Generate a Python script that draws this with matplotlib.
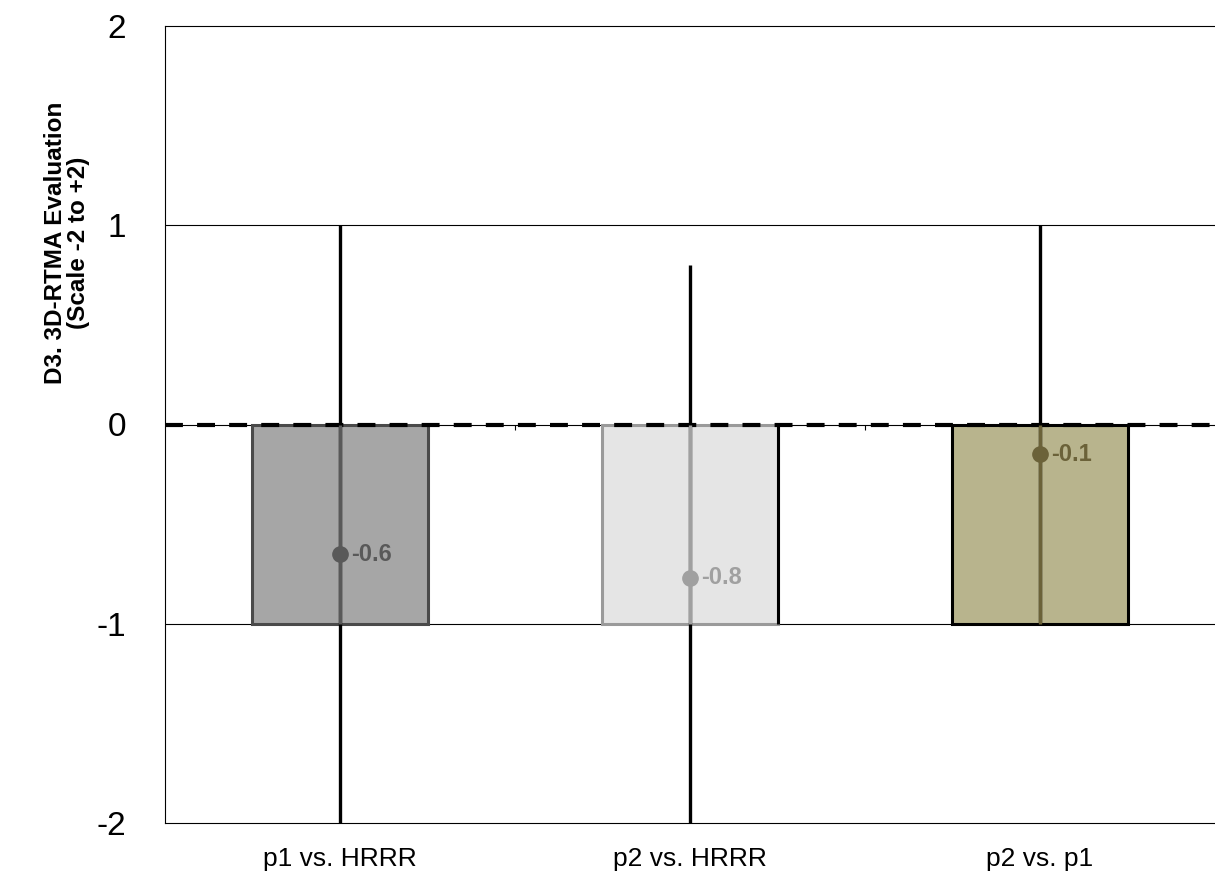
import matplotlib
matplotlib.use("Agg")
import matplotlib.pyplot as plt
import numpy as np

categories = ["p1 vs. HRRR", "p2 vs. HRRR", "p2 vs. p1"]
box_top = [0, 0, 0]
box_bottom = [-1, -1, -1]
whisker_low = [-2, -2, -1]
whisker_high = [1, 0.8, 1]
means = [-0.65, -0.77, -0.15]
mean_labels = ["-0.6", "-0.8", "-0.1"]
yticks = [-2, -1, 0, 1, 2]

fill_colors = ["#A6A6A6", "#E5E5E5", "#B8B48D"]
edge_colors = ["#4A4A4A", "#9A9A9A", "#000000"]
inner_colors = ["#595959", "#A0A0A0", "#6B6239"]

plt.rcParams['font.family'] = ['Liberation Sans', 'DejaVu Sans']

fig = plt.figure(figsize=(12.15, 8.77), dpi=100)
ax = fig.add_axes([165/1215, 54/877, 1050/1215, 797/877])

x = np.arange(len(categories))
width = 0.505
ax.set_xlim(-0.5, len(categories) - 0.5)
ax.set_ylim(-2, 2)

# gridlines
for yv in yticks[1:-1]:
    ax.axhline(yv, color="#000000", lw=0.8, zorder=1)

heights = np.array(box_top) - np.array(box_bottom)
bars = ax.bar(x, heights, bottom=box_bottom, width=width, color=fill_colors,
              edgecolor=edge_colors, linewidth=2.2, zorder=2)
# right edge of the second box is drawn black in the original
ax.vlines(x[1] + width / 2, box_bottom[1], box_top[1], color="black", lw=2.2, zorder=2.5)

# small category-separator ticks on zero line
ax.vlines(x[:-1] + 0.5, -0.03, 0, color="#000000", lw=0.8, zorder=1)

# zero dashed line
ax.axhline(0, color="black", lw=3.0, dashes=(4.3, 3.4), zorder=3)

# whiskers
for i in range(len(categories)):
    ax.vlines(x[i], whisker_low[i], whisker_high[i], color="black", lw=2.4, zorder=4)
    ax.vlines(x[i], box_bottom[i], box_top[i], color=inner_colors[i], lw=2.4, zorder=5)
    ax.plot(x[i], means[i], 'o', color=inner_colors[i], markersize=11, zorder=6)
    ax.annotate(mean_labels[i], (x[i], means[i]), xytext=(8, 0), textcoords="offset points",
                ha="left", va="center", fontsize=17, fontweight="bold",
                color=inner_colors[i], zorder=7)

ax.set_yticks(yticks)
ax.set_yticklabels([str(v) for v in yticks], fontsize=24)
ax.set_xticks(x)
ax.set_xticklabels(categories, fontsize=19)
ax.tick_params(axis="y", length=0, pad=28)
ax.tick_params(axis="x", length=0, pad=17)

for s in ["left", "top", "bottom"]:
    ax.spines[s].set_color("#000000")
    ax.spines[s].set_linewidth(0.8)
ax.spines["right"].set_visible(False)

ax.set_ylabel("D3. 3D-RTMA Evaluation\n(Scale -2 to +2)", fontsize=17.5, fontweight="bold",
              linespacing=1.05)
ax.yaxis.set_label_coords(-0.071, 0.728)

fig.savefig("out.png", dpi=100)
